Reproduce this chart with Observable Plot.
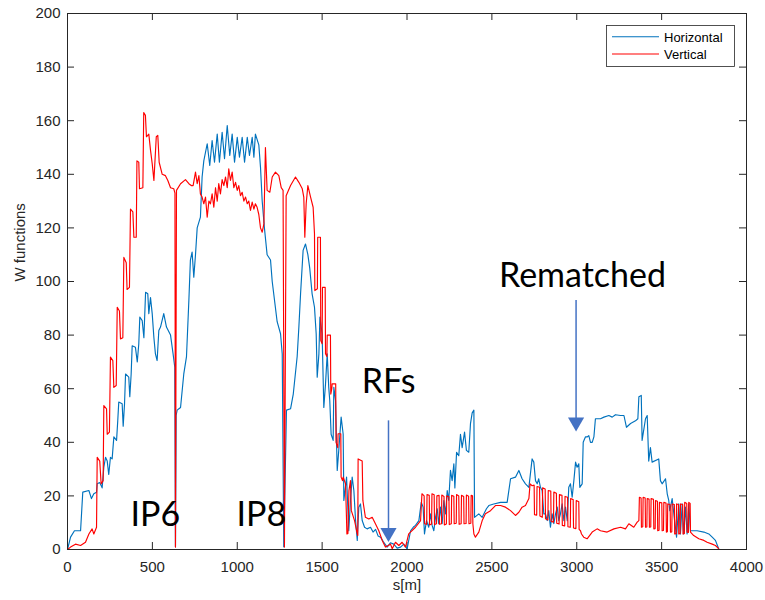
<!DOCTYPE html>
<html><head><meta charset="utf-8">
<script src="https://cdn.jsdelivr.net/npm/d3@7"></script>
<script src="https://cdn.jsdelivr.net/npm/@observablehq/plot@0.6"></script>
<style>body{margin:0;background:#fff}</style>
</head><body><div id="chart"></div>
<script>
// Horizontal (blue) W function
const hS = [0,18,41,77,90,126,141,155,171,175,190,204,214,224,234,243,253,263,273,289,296,302,322,328,336,342,361,367,375,381,400,411,420,426,440,450,460,473,479,489,499,509,518,528,538,548,567,583,607,622,632,636,640,646,666,685,701,715,724,734,744,754,764,783,793,803,823,838,852,866,882,895,911,925,941,956,970,984,1000,1013,1029,1043,1059,1072,1088,1098,1107,1127,1137,1147,1160,1176,1196,1206,1235,1255,1265,1274,1290,1314,1330,1353,1363,1373,1388,1402,1416,1427,1441,1455,1465,1471,1481,1487,1500,1510,1520,1530,1539,1545,1553,1565,1569,1579,1589,1598,1612,1624,1628,1644,1657,1667,1677,1687,1697,1707,1716,1726,1736,1750,1765,1785,1800,1815,1830,1844,1860,1883,1902,1922,1942,1962,1981,2001,2021,2040,2050,2070,2084,2095,2103,2115,2128,2139,2148,2158,2168,2178,2187,2197,2207,2217,2227,2237,2246,2256,2266,2276,2282,2292,2305,2315,2325,2339,2350,2364,2374,2384,2394,2398,2423,2443,2468,2482,2511,2551,2590,2610,2639,2659,2678,2698,2718,2737,2747,2757,2767,2776,2786,2796,2806,2816,2826,2835,2845,2855,2865,2875,2885,2894,2904,2914,2924,2934,2944,2953,2963,2973,2983,2993,3002,3012,3018,3032,3038,3051,3061,3071,3081,3091,3101,3110,3140,3160,3189,3209,3228,3258,3278,3293,3317,3346,3360,3366,3380,3385,3405,3415,3424,3434,3444,3483,3493,3503,3523,3533,3542,3548,3562,3572,3588,3601,3611,3621,3630,3640,3650,3660,3670,3689,3709,3749,3778,3798,3817,3836];
const hW = [0,4.6,7,7,21.4,22,19,20.8,21.4,24.5,25,23,30.7,34.4,33,28,34.4,33.8,42,40.7,48,55,54.4,46,54.4,65.5,64.3,57,65.5,76,75.5,70,76.8,86.7,85.4,79,96,95.4,88,94,88,79,73,70.5,81.7,83,88,83,80,73,68,1,50,52,53,65.5,72,93,108,111,101.6,110,120,124,139,145,151.4,143.3,152.6,144.5,155,144.5,155.7,145.8,158.2,147,155,144.5,153.8,146.4,153.8,144.5,153.8,147,153.8,146.4,155,151,142.6,130,120,110,108,100,85,80.5,73,1,52,52.5,58,72,83,95.4,111.6,114,110,105,95.4,90.4,80.5,64.3,73,86.7,80.5,53,61.8,73,60.5,55.6,43,40.7,60.5,55.6,29.5,37,49.4,43,18.3,27,7,18.3,27,22,10.8,3.4,15.8,17,10.8,8.3,7.7,8.3,6.5,7.5,5,4.6,3,0.9,2.5,2,0.5,0.9,2,0.3,7,8.5,9,10.8,17.6,15.8,5.8,10.8,8.3,13.3,9,7,12,15.2,9.6,15.8,9.6,18.3,13.3,22,18.3,29.5,25.7,32,23,36.3,35,43,38,43.8,37,36.3,47,51,52,12,13.3,12,15.2,16.4,17,17.6,17.6,26.4,27,29.5,26.4,24.5,23.2,33.8,32.6,25.7,24.5,26.4,23.2,22,13.3,13.3,10.8,14.5,8.3,13.3,9.6,13.3,15.8,10.8,13.3,17,10.8,15.8,10.8,23.2,24.5,19.5,25.7,32.6,30.7,32,23.2,24.5,40,42,42,42.5,40,40,42,48.8,48.8,49.4,50,49.4,50.3,50,50,45.6,47,48,48.8,57,57.5,40.7,48.8,50,33,38,32.6,33.8,25.7,24.5,26.4,20.8,18.3,14.5,19,13.3,4.6,17,5.8,17,5.8,15.8,5.8,17,7,7,7,6.5,5.8,4.6,3.4,0.3];

// Vertical (red) W function
const vS = [0,18,47,77,106,126,145,155,171,175,190,198,210,214,230,234,247,253,267,273,287,293,306,312,326,332,346,351,365,371,385,391,405,409,420,424,444,449,459,465,479,489,499,509,523,532,540,558,577,591,607,626,633,636,642,666,695,715,729,740,754,764,774,783,793,803,813,823,833,842,852,862,872,882,891,901,911,921,931,941,950,960,970,980,990,1000,1009,1019,1029,1039,1049,1059,1068,1078,1088,1098,1107,1117,1127,1137,1147,1157,1166,1176,1192,1206,1225,1245,1259,1270,1278,1288,1314,1343,1363,1383,1392,1398,1406,1416,1432,1447,1455,1457,1472,1474,1490,1492,1500,1502,1518,1520,1528,1530,1549,1551,1557,1559,1580,1582,1592,1594,1610,1612,1620,1624,1638,1646,1652,1658,1667,1672,1691,1703,1710,1712,1736,1740,1755,1775,1795,1814,1834,1854,1873,1903,1913,1932,1952,1971,1991,2010,2050,2080,
  2088,2101,2103,2116,2118,2131,2133,2145,2147,2160,2162,2174,2176,2189,2191,2203,2205,2218,2220,2232,2234,2247,2249,2261,2263,2276,2278,2290,2292,2305,2307,2319,2321,2334,2336,2348,2350,2363,2365,2376,2378,2386,2388,2394,
  2403,2423,2443,2462,2492,2521,2551,2580,2610,2639,2659,2678,2698,2718,
  2725,2737,2749,2751,2764,2766,2781,2783,2797,2799,2814,2816,2830,2832,2847,2849,2863,2865,2880,2882,2896,2898,2913,2915,2929,2931,2946,2948,2962,2964,2979,2981,2995,2997,3012,3014,3022,3028,3041,
  3061,3091,3120,3140,3179,3219,3258,3287,3307,3336,3356,3366,3369,3379,3381,3389,3391,3403,3405,3413,3415,3426,3428,3436,3438,3452,3454,3462,3464,3475,3477,3485,3487,3501,3503,3511,3513,3526,3528,3534,3536,3550,3552,3560,3562,3575,3577,3586,3588,3599,3601,3609,3611,3624,3626,3634,3636,3648,3650,3658,3660,3668,3670,3689,3719,3749,3768,3798,3817,3836];
const vW = [0,0.9,2,1.5,2.7,5.8,7.7,5.8,8.3,34.4,33,24.5,25.7,53.7,52.5,43,43.8,71.8,70.5,60.5,61.2,90.4,89,78.6,79,109,107,97,97.8,127,126,116.5,116.5,145,144.5,134.6,135,163,162,154,155,149,144,137.7,154,154.5,144.5,140,139.5,137.7,135,134.6,133,0.9,134,136.5,138,136.5,135.8,135.8,140.8,136.5,139.5,132.7,131.5,129,131.5,124,130,129,132.7,127.7,135,130,136.5,132.7,138,135.8,139,135,142,137.7,140.8,135,137,134,135.8,132,133.3,130,131.5,129,130,126.5,129.6,127,129,127.7,125,120,118.4,121.5,150,134,133.3,139,140.8,139.5,135,134,0.9,132,135.8,139,137,134.6,131.5,116.5,129,135.8,131.5,127.7,117.8,96.6,97.3,116.5,116.5,78,76.8,97.8,97.8,73,72,80,80,58,60,61.8,61.8,40,38,43.2,43.2,27,25.7,27,24.5,5.8,6,22,25.7,14.5,10.8,7,5.2,33.8,33,18.3,12,11.4,12,9.6,7,3.4,0.9,2,0.3,2.7,1.5,2.7,0.9,5.8,8.3,10.8,
  20.8,20,9.6,9.4,20.5,20.2,9.2,9.5,20.8,20.4,9.3,9.6,20,20.2,9.4,9.6,20.3,19.8,9.2,9.5,20,19.7,9.3,9.6,20.2,19.9,9.6,9.8,20.5,20,9.4,9.6,20.2,19.8,9.6,9.7,20.3,19.9,9.6,9.8,20.2,20,9.6,5.8,
  4.6,6.5,10.8,13.3,14.5,16.4,16.4,15.8,14.5,12.7,13.9,15.8,16.4,19,
  24.5,23.8,24,13,12.8,23.5,23.2,12.5,12,23,22.6,11.5,11,22,21.8,10.5,10.2,21.4,21,9.8,9.5,20.5,20.2,9,8.8,19.8,19.5,8.5,8.3,19,18.6,8,7.8,18.3,17.8,7.5,7,5.8,4.6,
  4,6.5,7.7,7,6.5,7.7,8.3,7.7,9.6,8.3,10.2,10.8,19.5,19.2,8.3,8.5,19.5,19.2,8.3,8.4,19,18.8,8.3,8.4,19,18.7,7.7,7.8,18.3,18,7,7.2,17.6,17.4,7,7.1,17.6,17.3,6.5,6.6,17,16.8,6.5,6.6,17,16.8,5.8,5.9,17,16.8,5.8,5.9,17,16.8,5.8,6,17.6,17.2,6.5,6.4,17.6,17.2,6.5,5.2,4,3.4,2.7,2,1.5,0.3];

const xTicks = [0,500,1000,1500,2000,2500,3000,3500,4000];
const yTicks = [0,20,40,60,80,100,120,140,160,180,200];
const seriesNames = ["Horizontal","Vertical"];
const seriesColors = ["#0072BD","#FF0000"];
const xLabel = "s[m]";
const yLabel = "W functions";
const noteLabels = ["IP6","IP8","RFs","Rematched"];
const noteS = [518,1142,1891,3034];
const noteW = [12.9,12.9,62.5,101.9];
const arrowS = [1891,2996];
const arrowTop = [48,92.9];
const arrowHead = [6.3,47.5];

const W = 765, H = 600, mL = 67, mR = 19, mT = 13, mB = 51;
const xDom = [0,4000], yDom = [0,200];
const tyLen = 7 * (yDom[1]-yDom[0]) / (H - mT - mB);
const txLen = 7 * (xDom[1]-xDom[0]) / (W - mL - mR);

const series = [
  hS.map((s,i)=>({s, w:hW[i]})),
  vS.map((s,i)=>({s, w:vW[i]}))
];
const notes = noteLabels.map((t,i)=>({t, s:noteS[i], w:noteW[i]}));
const arrows = arrowS.map((s,i)=>({s, top:arrowTop[i], head:arrowHead[i]}));
const axisColor = "#262626";
const fmt = d => String(d);

const chart = Plot.plot({
  width: W, height: H,
  marginLeft: mL, marginRight: mR, marginTop: mT, marginBottom: mB,
  style: {fontFamily: "'Liberation Sans', Arial, sans-serif", fontSize: "15px", color: axisColor, background: "#fff"},
  x: {domain: xDom},
  y: {domain: yDom},
  marks: [
    Plot.ruleX(xTicks, {x: d=>d, y1: yDom[0], y2: yDom[0]+tyLen, stroke: axisColor}),
    Plot.ruleX(xTicks, {x: d=>d, y1: yDom[1], y2: yDom[1]-tyLen, stroke: axisColor}),
    Plot.ruleY(yTicks, {y: d=>d, x1: xDom[0], x2: xDom[0]+txLen, stroke: axisColor}),
    Plot.ruleY(yTicks, {y: d=>d, x1: xDom[1], x2: xDom[1]-txLen, stroke: axisColor}),
    Plot.axisX({ticks: xTicks, tickFormat: fmt, tickSize: 0, tickPadding: 12, label: null, fill: axisColor}),
    Plot.axisY({ticks: yTicks, tickFormat: fmt, tickSize: 0, tickPadding: 7, label: null, fill: axisColor}),
    Plot.line(series[0], {x: "s", y: "w", stroke: seriesColors[0], strokeWidth: 1.15}),
    Plot.line(series[1], {x: "s", y: "w", stroke: seriesColors[1], strokeWidth: 1.15}),
    Plot.frame({stroke: axisColor}),
    Plot.text([yLabel], {frameAnchor: "left", dx: -47, rotate: -90, fontSize: 15, fill: axisColor}),
    Plot.text([xLabel], {frameAnchor: "bottom", dy: 40, fontSize: 15, fill: axisColor}),
    Plot.text(notes, {x: "s", y: "w", text: "t", fontSize: 34, fontFamily: "Lato, 'Open Sans', sans-serif", fill: "#000"}),
    Plot.ruleX(arrows, {x: "s", y1: "top", y2: "head", stroke: "#4472C4", strokeWidth: 1.5}),
    Plot.dot(arrows, {x: "s", y: "head", symbol: "triangle", r: 6, rotate: 180, fill: "#4472C4", stroke: null})
  ]
});
document.getElementById("chart").appendChild(chart);

// in-plot legend box (MATLAB style)
const svg = d3.select(chart);
const lg = svg.append("g").attr("font-family", "'Liberation Sans', Arial, sans-serif").attr("font-size", 13).attr("text-anchor", "start");
lg.append("rect").attr("x", 606.5).attr("y", 25.5).attr("width", 128).attr("height", 41)
  .attr("fill", "#fff").attr("stroke", axisColor).attr("stroke-width", 0.8);
seriesNames.forEach((name, i) => {
  const y = 36.7 + i * 17.3;
  lg.append("line").attr("x1", 612).attr("x2", 659).attr("y1", y).attr("y2", y)
    .attr("stroke", seriesColors[i]).attr("stroke-width", 1.1);
  lg.append("text").attr("x", 664).attr("y", y + 5).attr("fill", "#000").attr("text-anchor", "start").text(name);
});
</script>
</body></html>
